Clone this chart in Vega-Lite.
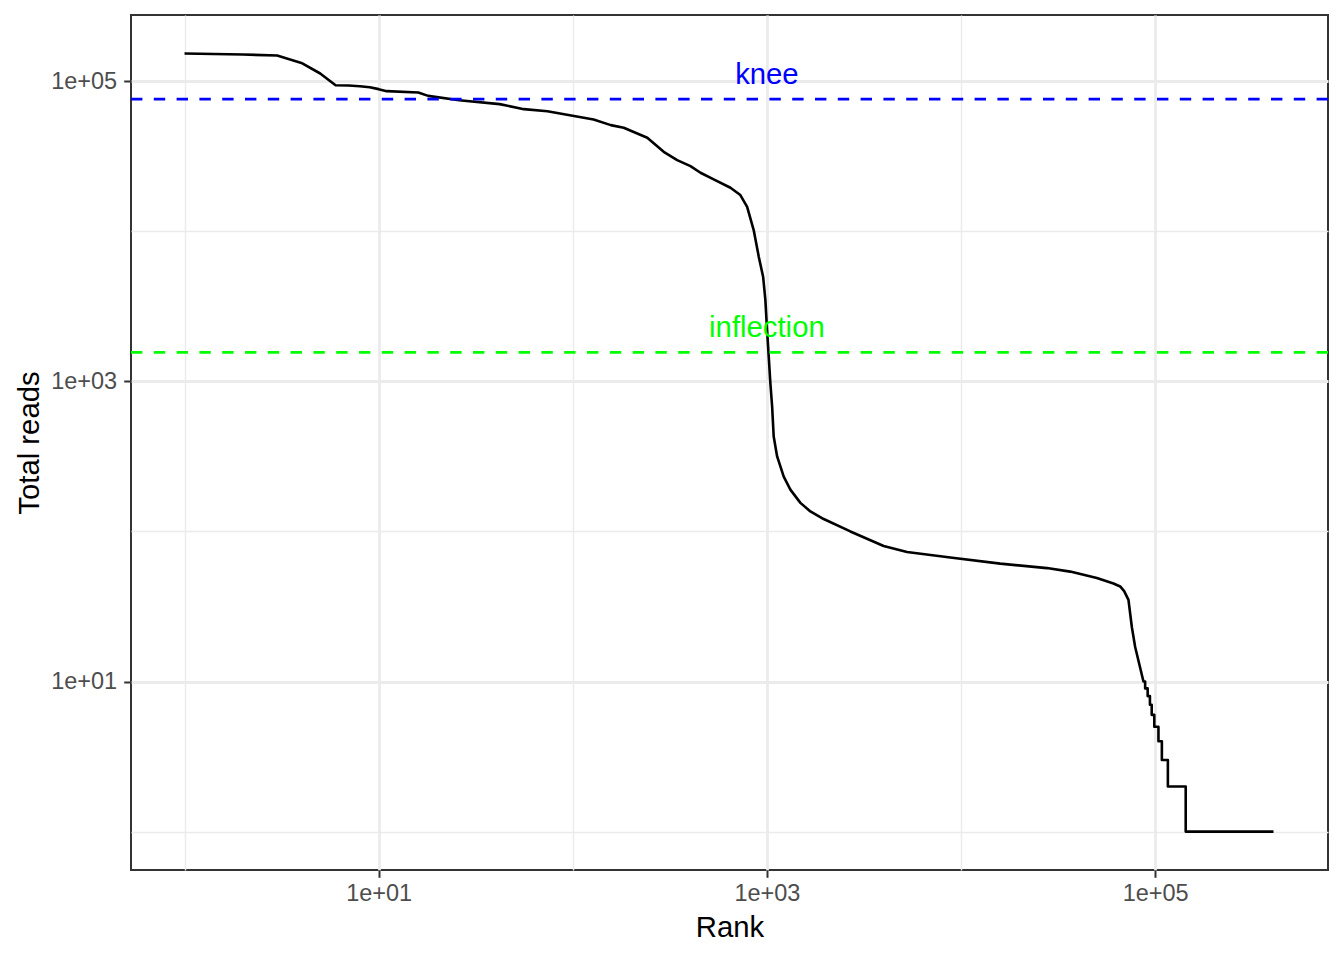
{
  "$schema": "https://vega.github.io/schema/vega-lite/v6.json",
  "width": 1197,
  "height": 855,
  "autosize": {"type": "none"},
  "padding": {"left": 131, "top": 15, "right": 16, "bottom": 90},
  "background": "white",
  "config": {
    "font": "Liberation Sans",
    "view": {"stroke": "#333333", "strokeWidth": 2}
  },
  "datasets": {
    "ranks": [
      {"rank": 1, "reads": 153000},
      {"rank": 2, "reads": 150500},
      {"rank": 3, "reads": 148200},
      {"rank": 4, "reads": 132400},
      {"rank": 5, "reads": 112500},
      {"rank": 6, "reads": 94000},
      {"rank": 7, "reads": 93500},
      {"rank": 8, "reads": 92600},
      {"rank": 9, "reads": 91200},
      {"rank": 10, "reads": 88500},
      {"rank": 11, "reads": 85800},
      {"rank": 16, "reads": 84100},
      {"rank": 18, "reads": 79800},
      {"rank": 26, "reads": 74700},
      {"rank": 42, "reads": 70300},
      {"rank": 56, "reads": 65100},
      {"rank": 74, "reads": 63100},
      {"rank": 128, "reads": 55600},
      {"rank": 157, "reads": 50950},
      {"rank": 183, "reads": 48900},
      {"rank": 242, "reads": 41940},
      {"rank": 294, "reads": 33850},
      {"rank": 345, "reads": 29800},
      {"rank": 404, "reads": 27190},
      {"rank": 455, "reads": 24530},
      {"rank": 532, "reads": 22170},
      {"rank": 649, "reads": 19490},
      {"rank": 730, "reads": 17430},
      {"rank": 791, "reads": 14560},
      {"rank": 855, "reads": 10190},
      {"rank": 908, "reads": 6770},
      {"rank": 956, "reads": 4980},
      {"rank": 982, "reads": 3490},
      {"rank": 1002, "reads": 2200},
      {"rank": 1022, "reads": 1463},
      {"rank": 1042, "reads": 973},
      {"rank": 1064, "reads": 680},
      {"rank": 1084, "reads": 429},
      {"rank": 1129, "reads": 316},
      {"rank": 1221, "reads": 232},
      {"rank": 1321, "reads": 190},
      {"rank": 1488, "reads": 155},
      {"rank": 1675, "reads": 136},
      {"rank": 1961, "reads": 121},
      {"rank": 2691, "reads": 100},
      {"rank": 3994, "reads": 80},
      {"rank": 5270, "reads": 73},
      {"rank": 8805, "reads": 67},
      {"rank": 15920, "reads": 61},
      {"rank": 27700, "reads": 57},
      {"rank": 36500, "reads": 54},
      {"rank": 50100, "reads": 49},
      {"rank": 61000, "reads": 45},
      {"rank": 66050, "reads": 43},
      {"rank": 69250, "reads": 40},
      {"rank": 72870, "reads": 35},
      {"rank": 75880, "reads": 23},
      {"rank": 78900, "reads": 17},
      {"rank": 87050, "reads": 10},
      {"rank": 88800, "reads": 10},
      {"rank": 88801, "reads": 9},
      {"rank": 91500, "reads": 9},
      {"rank": 91501, "reads": 8},
      {"rank": 94000, "reads": 8},
      {"rank": 94001, "reads": 7},
      {"rank": 96000, "reads": 7},
      {"rank": 96001, "reads": 6},
      {"rank": 99000, "reads": 6},
      {"rank": 99001, "reads": 5},
      {"rank": 104000, "reads": 5},
      {"rank": 104001, "reads": 4},
      {"rank": 108300, "reads": 4},
      {"rank": 108301, "reads": 3},
      {"rank": 116300, "reads": 3},
      {"rank": 116301, "reads": 2},
      {"rank": 143700, "reads": 2},
      {"rank": 143701, "reads": 1},
      {"rank": 407000, "reads": 1}
    ],
    "cutoffs": [
      {"label": "knee", "rank": 1000, "reads": 76000},
      {"label": "inflection", "rank": 1000, "reads": 1560}
    ]
  },
  "layer": [
    {
      "data": {"name": "ranks"},
      "mark": {"type": "line", "color": "#000000", "strokeWidth": 2.6, "strokeJoin": "round"},
      "encoding": {
        "x": {
          "field": "rank", "type": "quantitative",
          "scale": {"type": "log", "domain": [0.53, 777000], "nice": false, "zero": false},
          "axis": {
            "title": "Rank",
            "values": [1, 10, 100, 1000, 10000, 100000],
            "labelExpr": "datum.value == 10 ? '1e+01' : datum.value == 1000 ? '1e+03' : datum.value == 100000 ? '1e+05' : ''",
            "domain": false,
            "gridColor": "#EBEBEB",
            "gridWidth": {"condition": {"test": "datum.value == 10 || datum.value == 1000 || datum.value == 100000", "value": 2.8}, "value": 1.4},
            "tickOpacity": {"condition": {"test": "datum.value == 10 || datum.value == 1000 || datum.value == 100000", "value": 1}, "value": 0},
            "tickColor": "#333333",
            "tickWidth": 2,
            "tickSize": 7.3,
            "labelFont": "Liberation Sans",
            "labelFontSize": 23.5,
            "labelColor": "#4D4D4D",
            "labelPadding": 4,
            "labelFlush": false,
            "labelOverlap": false,
            "titleFont": "Liberation Sans",
            "titleFontSize": 29.3,
            "titleFontWeight": "normal",
            "titleColor": "#000000",
            "titlePadding": 9
          }
        },
        "y": {
          "field": "reads", "type": "quantitative",
          "scale": {"type": "log", "domain": [0.555, 276000], "nice": false, "zero": false},
          "axis": {
            "title": "Total reads",
            "values": [1, 10, 100, 1000, 10000, 100000],
            "labelExpr": "datum.value == 10 ? '1e+01' : datum.value == 1000 ? '1e+03' : datum.value == 100000 ? '1e+05' : ''",
            "domain": false,
            "gridColor": "#EBEBEB",
            "gridWidth": {"condition": {"test": "datum.value == 10 || datum.value == 1000 || datum.value == 100000", "value": 2.8}, "value": 1.4},
            "tickOpacity": {"condition": {"test": "datum.value == 10 || datum.value == 1000 || datum.value == 100000", "value": 1}, "value": 0},
            "tickColor": "#333333",
            "tickWidth": 2,
            "tickSize": 7.3,
            "labelFont": "Liberation Sans",
            "labelFontSize": 23.5,
            "labelColor": "#4D4D4D",
            "labelPadding": 7,
            "labelFlush": false,
            "labelOverlap": false,
            "titleFont": "Liberation Sans",
            "titleFontSize": 29.3,
            "titleFontWeight": "normal",
            "titleColor": "#000000",
            "titlePadding": 6
          }
        }
      }
    },
    {
      "data": {"name": "cutoffs"},
      "mark": {"type": "rule", "strokeWidth": 2.8, "strokeDash": [11.4, 11.4]},
      "encoding": {
        "y": {"field": "reads", "type": "quantitative"},
        "color": {"field": "label", "type": "nominal", "scale": {"domain": ["knee", "inflection"], "range": ["#0000FF", "#00FF00"]}, "legend": null}
      }
    },
    {
      "data": {"name": "cutoffs"},
      "mark": {"type": "text", "font": "Liberation Sans", "fontSize": 29.3, "align": "center", "baseline": "alphabetic", "dy": -15},
      "encoding": {
        "x": {"field": "rank", "type": "quantitative"},
        "y": {"field": "reads", "type": "quantitative"},
        "text": {"field": "label"},
        "color": {"field": "label", "type": "nominal", "legend": null}
      }
    }
  ]
}
